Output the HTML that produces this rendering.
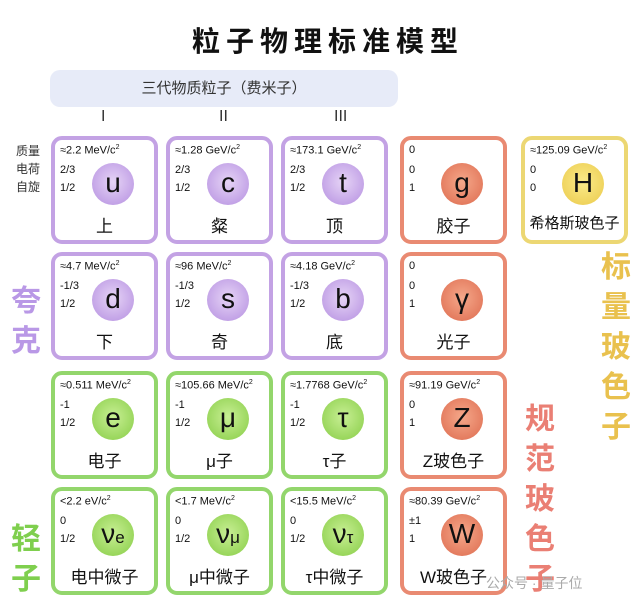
<!DOCTYPE html>
<html><head><meta charset="utf-8"><style>
*{margin:0;padding:0;box-sizing:border-box}
body{width:640px;height:611px;background:#fff;position:relative;overflow:hidden;font-family:"Liberation Sans","Noto Sans CJK SC",sans-serif;color:#111}
.a{position:absolute;white-space:nowrap}
.c{position:absolute;width:107px;height:108px;border:4px solid;border-radius:11px;background:rgba(255,255,255,0.85)}
.q{border-color:#c3a2e4}.l{border-color:#93d66c}.g{border-color:#e98a72}.h{border-color:#ecd773}
.c .m{position:absolute;left:5px;top:4px;font-size:11px}
.c .m sup{font-size:7px}
.c .p{position:absolute;left:5px;font-size:11px}
.c .o{position:absolute;left:37px;top:23px;width:42px;height:42px;border-radius:50%;text-align:center;line-height:40px;font-size:28px}
.q .o{background:radial-gradient(circle at 50% 45%,#e6d4f6,#b48ee0)}
.l .o{background:radial-gradient(circle at 50% 45%,#c8ef94,#86cc45)}
.g .o{background:radial-gradient(circle at 50% 45%,#f5a88a,#dd6a4e)}
.h .o{background:radial-gradient(circle at 50% 45%,#fbeb8a,#eac94a)}
.c .n{position:absolute;left:0;right:0;top:72px;text-align:center;font-size:17px}
.v{position:absolute;font-size:30px;font-weight:bold;line-height:40px;width:34px;text-align:center}
</style></head><body>
<div class="a" style="left:0;width:656px;top:20px;text-align:center;font-size:28px;font-weight:bold;letter-spacing:6px">粒子物理标准模型</div>
<div class="a" style="left:50px;top:70px;width:348px;height:37px;background:#e7ebf8;border-radius:10px;text-align:center;line-height:37px;font-size:15px;color:#333">三代物质粒子（费米子）</div>
<div class="a" style="left:101px;top:108px;font-size:16px;color:#333">I</div>
<div class="a" style="left:219px;top:108px;font-size:16px;color:#333">II</div>
<div class="a" style="left:334px;top:108px;font-size:16px;color:#333">III</div>
<div class="a" style="left:16px;top:142px;font-size:12px;line-height:18px;color:#333">质量<br>电荷<br>自旋</div>
<div class="v" style="left:9px;top:282px;color:#b998e6">夸<br>克</div>
<div class="v" style="left:9px;top:520px;color:#7fcf4e">轻<br>子</div>
<div class="v" style="left:523px;top:400px;color:#ea7f74">规<br>范<br>玻<br>色<br>子</div>
<div class="v" style="left:599px;top:248px;color:#e9c14e">标<br>量<br>玻<br>色<br>子</div>

<div class="c q" style="left:51px;top:136px"><div class="m">≈2.2 MeV/c<sup>2</sup></div><div class="p" style="top:24px">2/3</div><div class="p" style="top:42px">1/2</div><div class="o">u</div><div class="n">上</div></div>
<div class="c q" style="left:166px;top:136px"><div class="m">≈1.28 GeV/c<sup>2</sup></div><div class="p" style="top:24px">2/3</div><div class="p" style="top:42px">1/2</div><div class="o">c</div><div class="n">粲</div></div>
<div class="c q" style="left:281px;top:136px"><div class="m">≈173.1 GeV/c<sup>2</sup></div><div class="p" style="top:24px">2/3</div><div class="p" style="top:42px">1/2</div><div class="o">t</div><div class="n">顶</div></div>
<div class="c g" style="left:400px;top:136px"><div class="m">0</div><div class="p" style="top:24px">0</div><div class="p" style="top:42px">1</div><div class="o">g</div><div class="n">胶子</div></div>
<div class="c h" style="left:521px;top:136px"><div class="m">≈125.09 GeV/c<sup>2</sup></div><div class="p" style="top:24px">0</div><div class="p" style="top:42px">0</div><div class="o">H</div><div class="n" style="font-size:15px">希格斯玻色子</div></div>

<div class="c q" style="left:51px;top:252px"><div class="m">≈4.7 MeV/c<sup>2</sup></div><div class="p" style="top:24px">-1/3</div><div class="p" style="top:42px">1/2</div><div class="o">d</div><div class="n">下</div></div>
<div class="c q" style="left:166px;top:252px"><div class="m">≈96 MeV/c<sup>2</sup></div><div class="p" style="top:24px">-1/3</div><div class="p" style="top:42px">1/2</div><div class="o">s</div><div class="n">奇</div></div>
<div class="c q" style="left:281px;top:252px"><div class="m">≈4.18 GeV/c<sup>2</sup></div><div class="p" style="top:24px">-1/3</div><div class="p" style="top:42px">1/2</div><div class="o">b</div><div class="n">底</div></div>
<div class="c g" style="left:400px;top:252px"><div class="m">0</div><div class="p" style="top:24px">0</div><div class="p" style="top:42px">1</div><div class="o">γ</div><div class="n">光子</div></div>

<div class="c l" style="left:51px;top:371px"><div class="m">≈0.511 MeV/c<sup>2</sup></div><div class="p" style="top:24px">-1</div><div class="p" style="top:42px">1/2</div><div class="o">e</div><div class="n">电子</div></div>
<div class="c l" style="left:166px;top:371px"><div class="m">≈105.66 MeV/c<sup>2</sup></div><div class="p" style="top:24px">-1</div><div class="p" style="top:42px">1/2</div><div class="o">μ</div><div class="n">μ子</div></div>
<div class="c l" style="left:281px;top:371px"><div class="m">≈1.7768 GeV/c<sup>2</sup></div><div class="p" style="top:24px">-1</div><div class="p" style="top:42px">1/2</div><div class="o">τ</div><div class="n">τ子</div></div>
<div class="c g" style="left:400px;top:371px"><div class="m">≈91.19 GeV/c<sup>2</sup></div><div class="p" style="top:24px">0</div><div class="p" style="top:42px">1</div><div class="o">Z</div><div class="n">Z玻色子</div></div>

<div class="c l" style="left:51px;top:487px"><div class="m">&lt;2.2 eV/c<sup>2</sup></div><div class="p" style="top:24px">0</div><div class="p" style="top:42px">1/2</div><div class="o">ν<span style="font-size:17px">e</span></div><div class="n">电中微子</div></div>
<div class="c l" style="left:166px;top:487px"><div class="m">&lt;1.7 MeV/c<sup>2</sup></div><div class="p" style="top:24px">0</div><div class="p" style="top:42px">1/2</div><div class="o">ν<span style="font-size:17px">μ</span></div><div class="n">μ中微子</div></div>
<div class="c l" style="left:281px;top:487px"><div class="m">&lt;15.5 MeV/c<sup>2</sup></div><div class="p" style="top:24px">0</div><div class="p" style="top:42px">1/2</div><div class="o">ν<span style="font-size:17px">τ</span></div><div class="n">τ中微子</div></div>
<div class="c g" style="left:400px;top:487px"><div class="m">≈80.39 GeV/c<sup>2</sup></div><div class="p" style="top:24px">±1</div><div class="p" style="top:42px">1</div><div class="o">W</div><div class="n">W玻色子</div></div>
<div class="a" style="left:486px;top:573px;font-size:14px;color:#aaa">公众号 · 量子位</div>
</body></html>
